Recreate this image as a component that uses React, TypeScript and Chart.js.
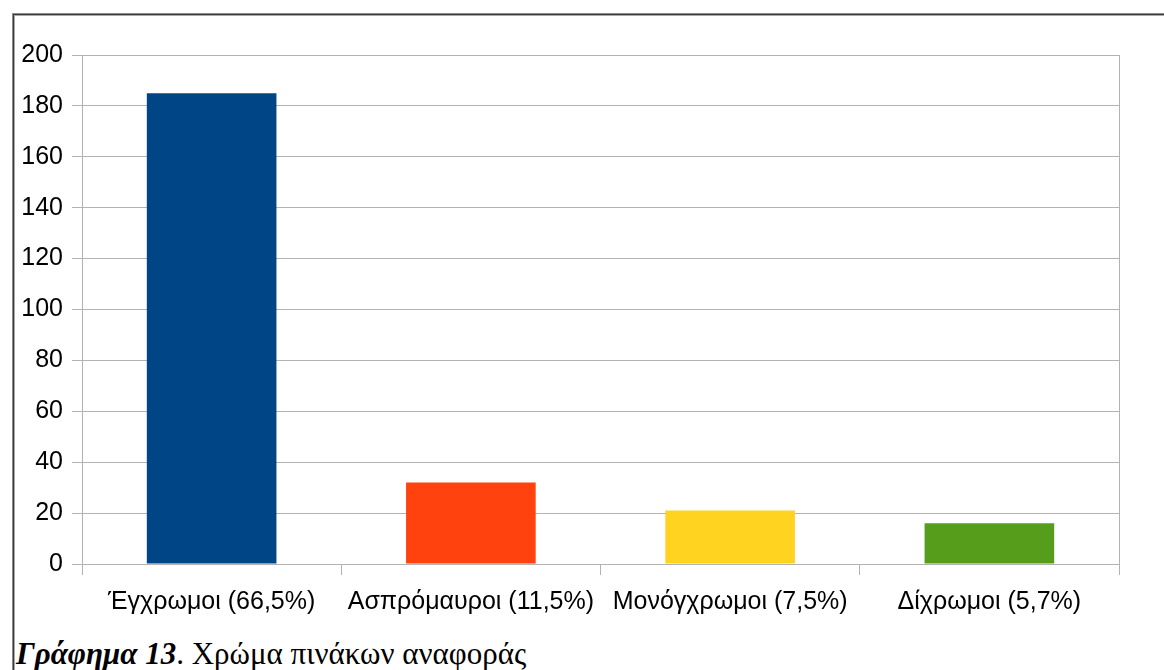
import React, { useEffect, useRef } from "react";
import { Chart, registerables } from "chart.js";

Chart.register(...registerables);

const categories = [
  "Έγχρωμοι (66,5%)",
  "Ασπρόμαυροι (11,5%)",
  "Μονόγχρωμοι (7,5%)",
  "Δίχρωμοι (5,7%)",
];
const values = [185, 32, 21, 16];
const barColors = ["#004586", "#ff420e", "#ffd320", "#579d1c"];
const yMin = 0;
const yMax = 200;
const yStep = 20;

const GRID = "#b3b3b3";

const rightBorder = {
  id: "rightBorder",
  afterDraw(chart: any) {
    const { ctx, chartArea } = chart;
    ctx.save();
    ctx.strokeStyle = GRID;
    ctx.lineWidth = 1;
    ctx.beginPath();
    const x = Math.round(chartArea.right) + 0.5;
    ctx.moveTo(x, chartArea.top);
    ctx.lineTo(x, chartArea.bottom);
    ctx.stroke();
    ctx.restore();
  },
};

export default function App() {
  const ref = useRef<HTMLCanvasElement>(null);
  useEffect(() => {
    if (!ref.current) return;
    const chart = new Chart(ref.current, {
      type: "bar",
      data: {
        labels: categories,
        datasets: [
          {
            data: values,
            backgroundColor: barColors,
            borderWidth: 0,
            barPercentage: 0.5,
            categoryPercentage: 1,
          },
        ],
      },
      options: {
        animation: false,
        responsive: false,
        maintainAspectRatio: false,
        layout: { padding: { top: 55, right: 45, left: 0, bottom: 0 } },
        plugins: {
          legend: { display: false },
          tooltip: { enabled: false },
          title: { display: false },
        },
        scales: {
          x: {
            offset: true,
            grid: {
              offset: true,
              drawOnChartArea: false,
              drawTicks: true,
              tickLength: 11,
              color: GRID,
            },
            border: { display: true, color: GRID },
            ticks: {
              autoSkip: false,
              maxRotation: 0,
              minRotation: 0,
              color: "#000",
              padding: 12,
              font: { family: "'Liberation Sans', Arial, sans-serif", size: 25 },
            },
            afterFit(scale: any) {
              scale.height = 60;
            },
          },
          y: {
            min: yMin,
            max: yMax,
            ticks: {
              stepSize: yStep,
              color: "#000",
              padding: 9,
              font: { family: "'Liberation Sans', Arial, sans-serif", size: 25 },
            },
            grid: { color: GRID, tickLength: 10, drawTicks: true },
            border: { display: true, color: GRID },
            afterFit(scale: any) {
              scale.width = 82;
            },
          },
        },
      },
      plugins: [rightBorder],
    });
    return () => chart.destroy();
  }, []);

  return (
    <div
      style={{
        position: "absolute",
        left: 0,
        top: 0,
        width: 1164,
        height: 670,
        background: "#fff",
        overflow: "hidden",
      }}
    >
      <div
        style={{
          position: "absolute",
          left: 12,
          top: 13,
          width: 1170,
          height: 680,
          borderLeft: "1px solid #8a8a8a",
          borderTop: "1px solid #8a8a8a",
        }}
      >
        <div
          style={{
            position: "absolute",
            left: 0,
            top: 0,
            right: 0,
            bottom: 0,
            borderLeft: "1px solid #3c3c3c",
            borderTop: "1px solid #3c3c3c",
          }}
        >
          <div
            style={{
              position: "absolute",
              left: 0,
              top: 0,
              right: 0,
              bottom: 0,
              borderLeft: "1px solid #a8a8a8",
              borderTop: "1px solid #a8a8a8",
            }}
          />
        </div>
      </div>
      <canvas
        ref={ref}
        width={1164}
        height={624}
        style={{ position: "absolute", left: 0, top: 0, width: 1164, height: 624 }}
      />
      <div
        style={{
          position: "absolute",
          left: 16,
          top: 639,
          fontFamily: "'Liberation Serif', 'Times New Roman', serif",
          fontSize: 31,
          lineHeight: "30px",
          color: "#000",
          whiteSpace: "nowrap",
        }}
      >
        <span style={{ fontWeight: "bold", fontStyle: "italic" }}>Γράφημα 13</span>. Χρώμα πινάκων αναφοράς
      </div>
    </div>
  );
}
